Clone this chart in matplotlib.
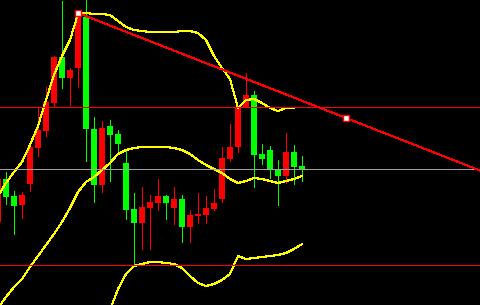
import numpy as np
import matplotlib
matplotlib.use('Agg')
import matplotlib.pyplot as plt

# candles (price units), red = up, green = down
opens = [83, 126, 109, 100, 121, 157, 174, 202, 248, 227, 237, 288, 176, 120, 179, 171, 142, 96, 82, 97,
         102, 109, 97, 106, 78, 89, 90, 96, 106, 146, 158, 198, 210, 151, 155, 136, 129, 153, 139]
highs = [128, 133, 114, 113, 158, 197, 218, 249, 304, 237, 292, 305, 188, 184, 185, 175, 155, 112, 118, 110,
         126, 110, 118, 110, 95, 112, 109, 116, 158, 181, 198, 232, 214, 161, 159, 145, 172, 160, 149]
lows = [81, 101, 71, 87, 114, 149, 169, 198, 217, 200, 218, 144, 103, 113, 124, 152, 86, 40, 56, 56,
        95, 86, 81, 63, 63, 82, 82, 95, 103, 144, 153, 198, 118, 141, 127, 100, 122, 121, 124]
closes = [126, 108, 99, 110, 158, 175, 203, 248, 227, 235, 292, 176, 120, 177, 170, 161, 95, 82, 98, 103,
          109, 102, 106, 78, 90, 91, 97, 102, 147, 158, 198, 210, 150, 146, 135, 129, 153, 138, 135]

# bollinger bands
upper = [109, 122, 133, 143, 160, 179, 205, 230, 249, 265, 291, 292, 291, 291, 290, 284, 278, 275, 274, 273,
         273, 273, 273, 274, 274, 272, 265, 249, 237, 226, 197, 205, 206, 202, 197, 194, 197, 197, np.nan]
middle = [-3, 8, 18, 26, 38, 49, 60, 71, 83, 97, 113, 123, 128, 135, 142, 151, 155, 157, 158, 158,
          158, 158, 157, 155, 151, 145, 140, 136, 132, 126, 122, 124, 127, 126, 124, 122, 124, 126, 129]
lower = [np.nan] * 14 + [-5, 16, 31, 39, 41, 43, 43, 42, 41, 37, 29, 22, 19, 21, 25, 31, 49, 46, 47, 48,
                         49, 50, 52, 56, 61]

# levels and trend line
red_levels = [198, 40]
gray_levels = [136]
trend_x = [10, 43.5]
trend_y = [292, 187]

n = len(opens)
x = np.arange(n)
o = np.array(opens)
c = np.array(closes)
up = c >= o
cols = np.where(up, '#ff0000', '#00ff00')
lw = 0.72

fig = plt.figure(figsize=(4.8, 3.05), dpi=100, facecolor='black')
ax = fig.add_axes([0, 0, 1, 1])
ax.set_facecolor('black')
ax.set_xlim(0.25, 60.25)
ax.set_ylim(0, 305)
ax.axis('off')

ax.vlines(x, lows, highs, colors=cols, linewidth=lw, antialiased=False, zorder=2)
ax.bar(x, np.abs(c - o) + 0.8, bottom=np.minimum(o, c) - 0.4, width=0.66, color=cols,
       linewidth=0, antialiased=False, zorder=3)

for band in (upper, middle, lower):
    ax.plot(x, band, color='#ffff00', linewidth=lw, antialiased=False, zorder=4)

for lv in red_levels:
    ax.axhline(lv, color='#ff0000', linewidth=lw, antialiased=False, zorder=5)
for lv in gray_levels:
    ax.axhline(lv, color='#a0a0a4', linewidth=lw, antialiased=False, zorder=5)

# trend ray to the right edge
slope = (trend_y[1] - trend_y[0]) / (trend_x[1] - trend_x[0])
x_end = 60.25
ax.plot([trend_x[0], x_end], [trend_y[0], trend_y[0] + slope * (x_end - trend_x[0])],
        color='#ff0000', linewidth=lw, antialiased=False, zorder=6)
ax.plot(trend_x, trend_y, 's', markersize=4, markerfacecolor='white', markeredgecolor='#ff0000',
        markeredgewidth=1, linestyle='none', zorder=7)

fig.savefig('out.png', dpi=100, facecolor='black')
